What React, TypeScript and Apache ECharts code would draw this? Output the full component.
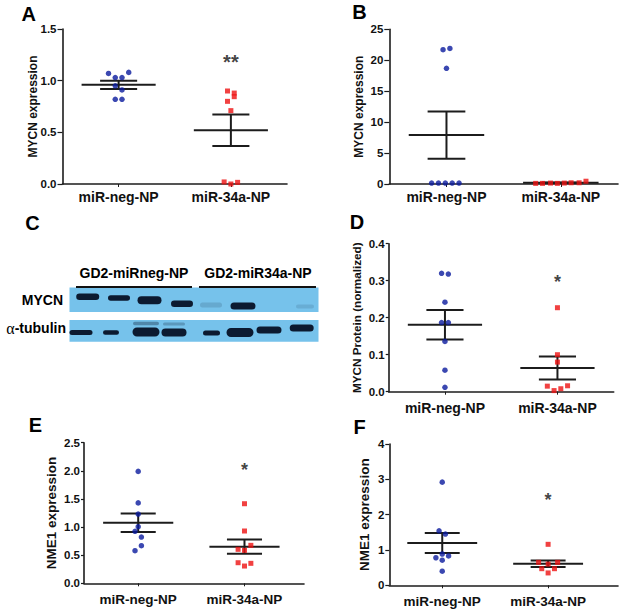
import React, { useEffect, useRef } from 'react';
import * as echarts from 'echarts';

const FONT = '"Liberation Sans", Arial, Helvetica, sans-serif';
const categories = ['miR-neg-NP', 'miR-34a-NP'];

// Panel A – MYCN expression
const aNegX = [0.91, 0.97, 1.03, 1.09, 0.97, 1.03, 0.97, 1.03];
const aNegValues = [1.07, 1.03, 1.03, 1.08, 0.95, 0.91, 0.82, 0.82];
const a34aX = [1.97, 2.03, 2.03, 1.97, 2.0, 1.94, 2.0, 2.06];
const a34aValues = [0.9, 0.88, 0.845, 0.8, 0.71, 0.02, 0.0, 0.016];
const aMeans = [0.96, 0.52];
const aSems = [0.04, 0.153];

// Panel B – MYCN expression
const bNegX = [0.97, 1.03, 1.0, 0.87, 0.93, 0.99, 1.05, 1.11];
const bNegValues = [21.7, 21.9, 18.7, 0.15, 0.15, 0.15, 0.15, 0.15];
const b34aX = [1.78, 1.84, 1.91, 1.97, 2.03, 2.09, 2.16, 2.22];
const b34aValues = [0.1, 0.1, 0.15, 0.1, 0.15, 0.2, 0.2, 0.45];
const bMeans = [7.9, 0.2];
const bSems = [3.8, 0.05];

// Panel D – MYCN protein (normalized)
const dNegX = [0.97, 1.03, 1.0, 0.97, 1.03, 1.0, 1.0, 1.0];
const dNegValues = [0.32, 0.318, 0.242, 0.187, 0.187, 0.136, 0.058, 0.012];
const d34aX = [2.0, 2.0, 2.0, 1.91, 2.09, 1.97, 2.03];
const d34aValues = [0.227, 0.1, 0.08, 0.015, 0.016, 0.003, 0.008];
const dMeans = [0.181, 0.064];
const dSems = [0.04, 0.031];

// Panel E – NME1 expression
const eNegX = [1.0, 1.0, 1.0, 1.0, 0.97, 1.03, 1.03, 0.97];
const eNegValues = [1.99, 1.43, 1.23, 1.006, 0.924, 0.823, 0.669, 0.58];
const e34aX = [2.0, 2.0, 2.06, 1.94, 2.0, 1.94, 2.06, 2.0];
const e34aValues = [1.415, 0.93, 0.675, 0.604, 0.586, 0.366, 0.355, 0.307];
const eMeans = [1.077, 0.652];
const eSems = [0.166, 0.128];

// Panel F – NME1 expression
const fNegX = [1.0, 0.97, 1.03, 1.0, 0.94, 1.06, 1.0, 1.0];
const fNegValues = [2.92, 1.54, 1.45, 0.886, 0.78, 0.83, 0.71, 0.4];
const f34aX = [2.0, 1.91, 2.09, 1.94, 2.06, 2.0, 2.0];
const f34aValues = [1.16, 0.65, 0.65, 0.47, 0.47, 0.35, 0.6];
const fMeans = [1.197, 0.61];
const fSems = [0.285, 0.095];

// significance marks (A, B, D, E, F)
const starLabels = ['**', '', '*', '*', '*'];
const starValues = [1.18, 0, 0.297, 2.02, 2.41];

// y axis ticks
const yMaxes = [1.5, 25, 0.4, 2.5, 4];
const yIntervals = [0.5, 5, 0.1, 0.5, 1];
const yDecimals = [1, 0, 1, 1, 0];
const yNames = ['MYCN expression', 'MYCN expression', 'MYCN Protein (normalized)', 'NME1 expression', 'NME1 expression'];

// Panel C (western blot) labels
const blotGroups = ['GD2-miRneg-NP', 'GD2-miR34a-NP'];
const blotRows = ['MYCN', 'α-tubulin'];

const NEG_COLOR = '#0a1a9e';
const MIR_COLOR = '#ee1111';
const LINE_COLOR = '#1c1c1c';

const layouts = [
  { grid: { left: 62.5, top: 29, width: 224.5, height: 155 }, xMin: 0.5, xMax: 2.5, nameGap: 23.5, nameSize: 12, labelMargin: 6, tickLen: 5, catMargin: 6, catSize: 14 },
  { grid: { left: 389.3, top: 29.3, width: 228.7, height: 154.7 }, xMin: 0.5, xMax: 2.5, nameGap: 24.6, nameSize: 12, labelMargin: 6, tickLen: 5, catMargin: 6, catSize: 14 },
  { grid: { left: 388.7, top: 243.7, width: 225, height: 148 }, xMin: 0.5, xMax: 2.5, nameGap: 26.7, nameSize: 11.7, labelMargin: 4, tickLen: 3, catMargin: 9, catSize: 14 },
  { grid: { left: 84, top: 442.7, width: 220, height: 140.6 }, xMin: 0.49, xMax: 2.56, nameGap: 25.5, nameSize: 13.5, labelMargin: 4, tickLen: 3, catMargin: 9, catSize: 13.5 },
  { grid: { left: 389.3, top: 444, width: 228.7, height: 141.3 }, xMin: 0.5, xMax: 2.66, nameGap: 18, nameSize: 13.5, labelMargin: 5, tickLen: 4, catMargin: 9, catSize: 13.5 },
];

const panelData = [
  { negX: aNegX, neg: aNegValues, mirX: a34aX, mir: a34aValues, means: aMeans, sems: aSems },
  { negX: bNegX, neg: bNegValues, mirX: b34aX, mir: b34aValues, means: bMeans, sems: bSems },
  { negX: dNegX, neg: dNegValues, mirX: d34aX, mir: d34aValues, means: dMeans, sems: dSems },
  { negX: eNegX, neg: eNegValues, mirX: e34aX, mir: e34aValues, means: eMeans, sems: eSems },
  { negX: fNegX, neg: fNegValues, mirX: f34aX, mir: f34aValues, means: fMeans, sems: fSems },
];

const MEAN_HALF = 0.33;
const CAP_HALF = 0.165;

function meanSemRender(params: any, api: any) {
  const x = api.value(0);
  const m = api.value(1);
  const s = api.value(2);
  const c = api.coord([x, m]);
  const t = api.coord([x, m + s]);
  const b = api.coord([x, m - s]);
  const hw = api.size([MEAN_HALF, 0])[0];
  const cw = api.size([CAP_HALF, 0])[0];
  const style = { stroke: LINE_COLOR, lineWidth: 2, fill: null };
  return {
    type: 'group',
    children: [
      { type: 'line', shape: { x1: c[0] - hw, y1: c[1], x2: c[0] + hw, y2: c[1] }, style },
      { type: 'line', shape: { x1: t[0], y1: t[1], x2: b[0], y2: b[1] }, style },
      { type: 'line', shape: { x1: t[0] - cw, y1: t[1], x2: t[0] + cw, y2: t[1] }, style },
      { type: 'line', shape: { x1: b[0] - cw, y1: b[1], x2: b[0] + cw, y2: b[1] }, style },
    ],
  };
}

// Blot drawing layout (decorative image of panel C)
const mycnBands = [
  [87.7, 296.7, 23, 6.5, 1], [119, 298, 22, 5.5, 1], [149.5, 300.3, 24, 8, 1], [182, 303.7, 22, 6.5, 1],
  [211, 305, 22, 5, 0.15], [243, 306, 25, 7, 1], [305, 306.5, 18, 4, 0.12],
];
const tubulinBands = [
  [81, 332.5, 23, 5, 1], [111, 332.5, 16, 4.5, 1], [146, 332, 27, 9, 1], [174, 332.5, 25, 8, 1],
  [211.5, 333, 17, 5, 1], [240, 332.5, 27, 9, 1], [269, 330, 25, 7, 1], [301.7, 328, 24, 7, 1],
  [146, 323.5, 26, 3.5, 0.35], [174, 324, 22, 3, 0.25],
];

function buildGraphic() {
  const g: any[] = [];
  const letters = [
    ['A', 28.8, 13.7], ['B', 359.5, 12.2], ['C', 32.5, 223], ['D', 357, 221.7], ['E', 35.5, 425], ['F', 359.5, 427],
  ];
  letters.forEach(([t, x, y]) => {
    g.push({ type: 'text', x, y, style: { text: t, fill: '#000', font: `bold 20px ${FONT}`, textAlign: 'center', textVerticalAlign: 'middle' } });
  });
  // blot backgrounds
  g.push({ type: 'rect', shape: { x: 69.5, y: 287.5, width: 249, height: 24.5 }, style: { fill: '#76c2eb' } });
  g.push({ type: 'rect', shape: { x: 69.5, y: 320, width: 249, height: 21.7 }, style: { fill: '#76c2eb' } });
  [...mycnBands, ...tubulinBands].forEach(([cx, cy, w, h, o]) => {
    g.push({
      type: 'rect',
      shape: { x: cx - w / 2, y: cy - h / 2, width: w, height: h, r: h / 2 },
      style: { fill: '#0c1a30', opacity: o },
    });
  });
  // group underlines
  g.push({ type: 'line', shape: { x1: 76, y1: 287, x2: 192, y2: 287 }, style: { stroke: '#111', lineWidth: 2 } });
  g.push({ type: 'line', shape: { x1: 199, y1: 287, x2: 316, y2: 287 }, style: { stroke: '#111', lineWidth: 2 } });
  g.push({ type: 'text', x: 134, y: 273, style: { text: blotGroups[0], fill: '#000', font: `bold 14px ${FONT}`, textAlign: 'center', textVerticalAlign: 'middle' } });
  g.push({ type: 'text', x: 258, y: 273, style: { text: blotGroups[1], fill: '#000', font: `bold 14px ${FONT}`, textAlign: 'center', textVerticalAlign: 'middle' } });
  g.push({ type: 'text', x: 63, y: 299.5, style: { text: blotRows[0], fill: '#000', font: `bold 14px ${FONT}`, textAlign: 'right', textVerticalAlign: 'middle' } });
  g.push({
    type: 'text', x: 66, y: 328,
    style: {
      text: `{a|${blotRows[1].charAt(0)}}{b|${blotRows[1].slice(1)}}`,
      textAlign: 'right', textVerticalAlign: 'middle',
      rich: {
        a: { fontFamily: '"Liberation Serif", "Times New Roman", serif', fontSize: 16, fill: '#000', color: '#000' },
        b: { fontFamily: FONT, fontWeight: 'bold', fontSize: 14, fill: '#000', color: '#000' },
      },
    },
  });
  return g;
}

function buildOption() {
  const grid: any[] = [];
  const xAxis: any[] = [];
  const yAxis: any[] = [];
  const series: any[] = [];
  layouts.forEach((L, i) => {
    grid.push({ ...L.grid, containLabel: false, outerBoundsMode: 'none' });
    xAxis.push({
      type: 'value', gridIndex: i, min: L.xMin, max: L.xMax,
      axisLine: { show: true, onZero: false, lineStyle: { color: LINE_COLOR, width: 1.6 } },
      axisTick: { show: true, customValues: [1, 2], length: 3, lineStyle: { color: LINE_COLOR, width: 1 } },
      axisLabel: {
        show: true, customValues: [1, 2], margin: L.catMargin,
        formatter: (v: number) => categories[Math.round(v) - 1] ?? '',
        fontFamily: FONT, fontWeight: 'bold', fontSize: L.catSize, color: '#111',
      },
      splitLine: { show: false },
    });
    const dec = yDecimals[i];
    yAxis.push({
      type: 'value', gridIndex: i, min: 0, max: yMaxes[i], interval: yIntervals[i],
      name: yNames[i], nameLocation: 'middle', nameGap: L.nameGap, nameRotate: 90, nameMoveOverlap: false,
      nameTextStyle: { fontFamily: FONT, fontWeight: 'bold', fontSize: L.nameSize, color: '#111', lineHeight: L.nameSize },
      axisLine: { show: true, onZero: false, lineStyle: { color: LINE_COLOR, width: 1.6 } },
      axisTick: { show: true, length: L.tickLen, lineStyle: { color: LINE_COLOR, width: 1.2 } },
      axisLabel: {
        margin: L.labelMargin, fontFamily: FONT, fontWeight: 'bold', fontSize: 11.5, color: '#111',
        formatter: (v: number) => v.toFixed(dec),
      },
      splitLine: { show: false },
    });
    const P = panelData[i];
    series.push({
      type: 'custom', xAxisIndex: i, yAxisIndex: i, renderItem: meanSemRender, z: 2,
      encode: { x: 0, y: 1 },
      data: P.means.map((m, k) => [k + 1, m, P.sems[k]]),
    });
    series.push({
      type: 'scatter', xAxisIndex: i, yAxisIndex: i, symbol: 'circle', symbolSize: 5.5, z: 3,
      itemStyle: { color: NEG_COLOR },
      data: P.negX.map((x, k) => [x, P.neg[k]]),
    });
    series.push({
      type: 'scatter', xAxisIndex: i, yAxisIndex: i, symbol: 'rect', symbolSize: 5, z: 3,
      itemStyle: { color: MIR_COLOR },
      data: P.mirX.map((x, k) => [x, P.mir[k]]),
    });
    if (starLabels[i]) {
      series.push({
        type: 'scatter', xAxisIndex: i, yAxisIndex: i, symbolSize: 1, z: 4,
        itemStyle: { color: 'rgba(0,0,0,0)' },
        label: {
          show: true, position: 'inside', formatter: (p: any) => p.value[2],
          fontFamily: FONT, fontWeight: 'bold', fontSize: i === 0 ? 20 : 18, color: '#111',
        },
        data: [[2, starValues[i], starLabels[i]]],
      });
    }
  });
  return { animation: false, backgroundColor: '#fff', grid, xAxis, yAxis, series, graphic: buildGraphic() };
}

export default function App() {
  const ref = useRef<HTMLDivElement>(null);
  useEffect(() => {
    const chart = echarts.init(ref.current!, null, { renderer: 'svg' });
    chart.setOption(buildOption() as any);
    return () => chart.dispose();
  }, []);
  return <div ref={ref} style={{ position: 'absolute', left: 0, top: 0, width: 624, height: 612, background: '#fff' }} />;
}
